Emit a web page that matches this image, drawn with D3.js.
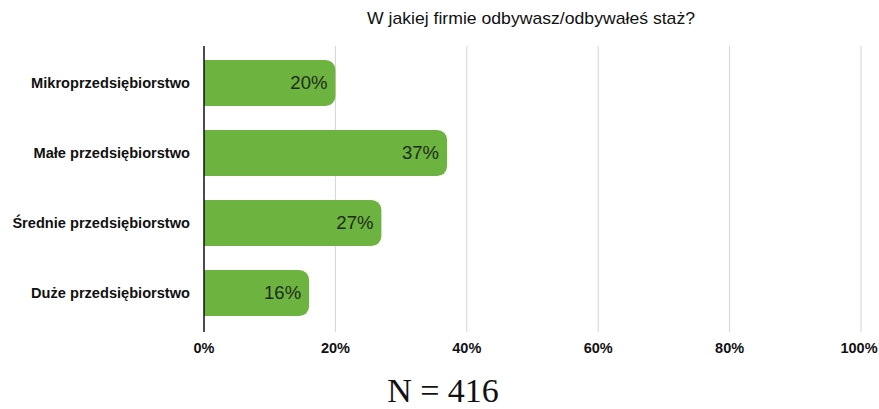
<!DOCTYPE html>
<html><head><meta charset="utf-8">
<script src="https://cdn.jsdelivr.net/npm/d3@7"></script>
<style>body{margin:0;background:#fff}</style>
</head><body>
<svg id="c" width="879" height="409"></svg>
<script>
const categories = ["Mikroprzedsiębiorstwo","Małe przedsiębiorstwo","Średnie przedsiębiorstwo","Duże przedsiębiorstwo"];
const values = [20, 37, 27, 16];
const ticks = [0, 20, 40, 60, 80, 100];
const title = "W jakiej firmie odbywasz/odbywałeś staż?";
const footer = "N = 416";

(function(){
const svg = d3.select("#c");
const x = d3.scaleLinear().domain([0,100]).range([204, 861]);
const y = d3.scaleBand().domain(categories).range([48, 328]).paddingInner(0.34).paddingOuter(0.17);
const yTop = 46, yBottom = 332;

svg.append("text").attr("x", 531).attr("y", 24).attr("text-anchor","middle")
  .attr("font-family","Liberation Sans, Arial, sans-serif").attr("font-size",17)
  .attr("textLength",328).attr("lengthAdjust","spacingAndGlyphs")
  .attr("fill","#111").text(title);

// gridlines
svg.append("g").selectAll("line").data(ticks.slice(1)).join("line")
  .attr("x1", d=>x(d)).attr("x2", d=>x(d)).attr("y1", yTop).attr("y2", yBottom)
  .attr("stroke","#d4d4d4").attr("stroke-width",1);

const r = 10;
const bw = y.bandwidth();
svg.append("g").selectAll("path").data(categories).join("path")
  .attr("d", (c,i)=>{
    const x0 = x(0), x1 = x(values[i]), y0 = y(c), y1 = y0 + bw;
    return `M${x0},${y0}H${x1-r}A${r},${r} 0 0 1 ${x1},${y0+r}V${y1-r}A${r},${r} 0 0 1 ${x1-r},${y1}H${x0}Z`;
  })
  .attr("fill","#6db33f");

svg.append("g").selectAll("text").data(categories).join("text")
  .attr("x", (c,i)=>x(values[i]) - 8).attr("y", c=>y(c)+bw/2).attr("dy","0.35em")
  .attr("text-anchor","end").attr("font-family","Liberation Sans, Arial, sans-serif")
  .attr("font-size",18.5).attr("fill","#1e2a1a").text((c,i)=>values[i]+"%");

// category labels
svg.append("g").selectAll("text").data(categories).join("text")
  .attr("x", 190).attr("y", c=>y(c)+bw/2).attr("dy","0.35em")
  .attr("text-anchor","end").attr("font-family","Liberation Sans, Arial, sans-serif")
  .attr("font-weight","bold").attr("font-size",14.6).attr("fill","#111").text(c=>c);

// axis line
svg.append("line").attr("x1", x(0)).attr("x2", x(0)).attr("y1", yTop).attr("y2", yBottom)
  .attr("stroke","#111").attr("stroke-width",1.5);

// tick labels
svg.append("g").selectAll("text").data(ticks).join("text")
  .attr("x", d=>d === 100 ? x(d) - 2 : x(d)).attr("y", 348).attr("dy","0.35em")
  .attr("text-anchor","middle").attr("font-family","Liberation Sans, Arial, sans-serif")
  .attr("font-weight","bold").attr("font-size",14.5).attr("fill","#111").text(d=>d+"%");

svg.append("text").attr("x", 443).attr("y", 402).attr("text-anchor","middle")
  .attr("font-family","Liberation Serif, Times New Roman, serif").attr("font-size",34).attr("fill","#111").text(footer);
})();
</script>
</body></html>
